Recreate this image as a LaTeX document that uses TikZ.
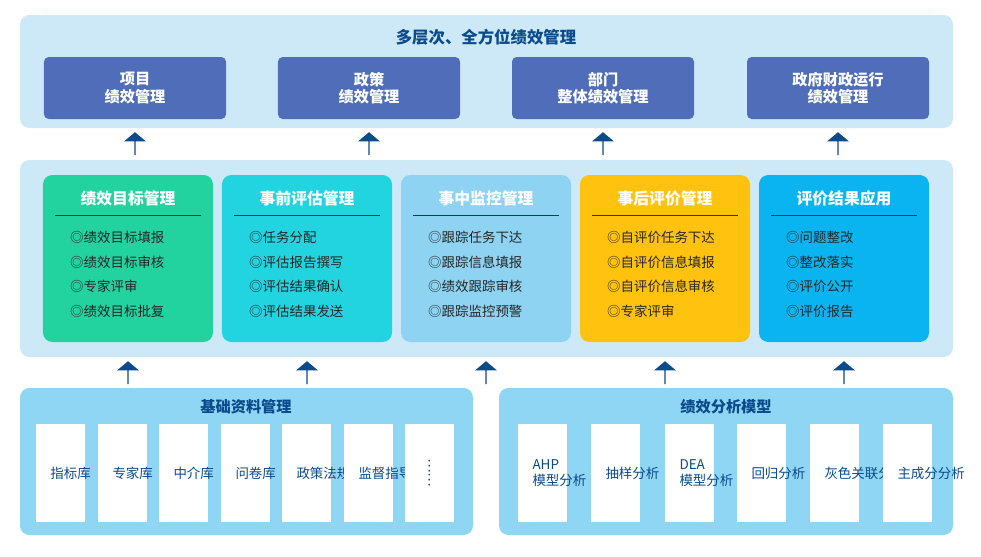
\documentclass[tikz,border=0pt]{standalone}
\usepackage{fontspec}
\setmainfont{Noto Sans CJK SC}
\usetikzlibrary{shapes.arrows}
\definecolor{panel}{HTML}{CDE9F8}
\definecolor{panelb}{HTML}{8ED6F3}
\definecolor{topbox}{HTML}{4F6DB8}
\definecolor{navy}{HTML}{0B4A8B}
\definecolor{cgreen}{HTML}{22D3A0}
\definecolor{ccyan}{HTML}{22D3E0}
\definecolor{clight}{HTML}{8ED3F2}
\definecolor{camber}{HTML}{FFC20E}
\definecolor{cblue}{HTML}{0AB4F0}
\tikzset{
  topbox/.style={fill=topbox,rounded corners=4pt,text=white,font=\bfseries\fontsize{13}{15}\selectfont,align=center,minimum width=5.46cm,minimum height=1.86cm},
  stagebox/.style={rounded corners=8pt,minimum width=5.1cm,minimum height=5.01cm},
  libbox/.style={fill=white,text=navy,font=\fontsize{11.5}{13}\selectfont,align=center,minimum width=1.47cm,minimum height=2.94cm,text width=0.6cm},
  uparrow/.style={single arrow,fill=navy,shape border rotate=90,single arrow head extend=3pt,minimum height=0.69cm,minimum width=0.66cm,single arrow tip angle=100,inner sep=0pt},
  item/.style={font=\fontsize{11.5}{13}\selectfont,text=black!85,anchor=west}
}
\begin{document}
\begin{tikzpicture}[x=0.03cm,y=-0.03cm]
\useasboundingbox (0,0) rectangle (981,556);
% top layer
\fill[panel,rounded corners=8pt] (20,15) rectangle (953,128);
\node[text=navy,font=\bfseries\fontsize{14}{16}\selectfont] (toptitle) at (486,37) {多层次、全方位绩效管理};
\node[topbox] (project) at (135,88) {项目\\绩效管理};
\node[topbox] (policy) at (369,88) {政策\\绩效管理};
\node[topbox] (dept) at (603,88) {部门\\整体绩效管理};
\node[topbox] (gov) at (838,88) {政府财政运行\\绩效管理};
% middle layer
\fill[panel,rounded corners=8pt] (20,160) rectangle (953,357);
\foreach \cx/\col/\ttl/\a/\b/\c/\d [count=\i] in {
  128/cgreen/绩效目标管理/绩效目标填报/绩效目标审核/专家评审/绩效目标批复,
  307/ccyan/事前评估管理/任务分配/评估报告撰写/评估结果确认/评估结果发送,
  486/clight/事中监控管理/跟踪任务下达/跟踪信息填报/绩效跟踪审核/跟踪监控预警,
  665/camber/事后评价管理/自评价任务下达/自评价信息填报/自评价信息审核/专家评审,
  844/cblue/评价结果应用/问题整改/整改落实/评价公开/评价报告}{
  \node[stagebox,fill=\col] (stage\i) at (\cx,258.5) {};
  \node[text=white,font=\bfseries\fontsize{13.5}{15}\selectfont] (stitle\i) at (\cx,198) {\ttl};
  \draw[black!80,line width=0.6pt] ([xshift=-62,yshift=-15]stitle\i.center) -- ([xshift=62,yshift=-15]stitle\i.center);
  \node[item] at (\cx-62,237) {◎\a};
  \node[item] at (\cx-62,262) {◎\b};
  \node[item] at (\cx-62,286) {◎\c};
  \node[item] at (\cx-62,311) {◎\d};
}
% arrows up
\foreach \x/\n in {135/project,369/policy,603/dept,838/gov}
  \node[uparrow] at (\x,144) {};
\foreach \x in {128,307,486,665,844}
  \node[uparrow] at (\x,373) {};
% bottom layer
\fill[panelb,rounded corners=8pt] (20,388) rectangle (473,535);
\fill[panelb,rounded corners=8pt] (499,388) rectangle (953,535);
\node[text=navy,font=\bfseries\fontsize{13}{15}\selectfont] (basetitle) at (246,407) {基础资料管理};
\node[text=navy,font=\bfseries\fontsize{13}{15}\selectfont] (modeltitle) at (726,407) {绩效分析模型};
\foreach \x/\t [count=\i] in {60.5/指标库,122.5/专家库,183.5/中介库,245.5/问卷库,306.5/政策法规库,368.5/监督指导库,429.5/{\rotatebox{90}{……}}}
  \node[libbox] (lib\i) at (\x,473) {\t};
\foreach \x/\t [count=\i] in {542.5/AHP 模型分析,615.5/抽样分析,689.5/DEA 模型分析,761.5/回归分析,834.5/灰色关联分析,907.5/主成分分析}
  \node[libbox] (model\i) at (\x,473) {\t};
\end{tikzpicture}
\end{document}
